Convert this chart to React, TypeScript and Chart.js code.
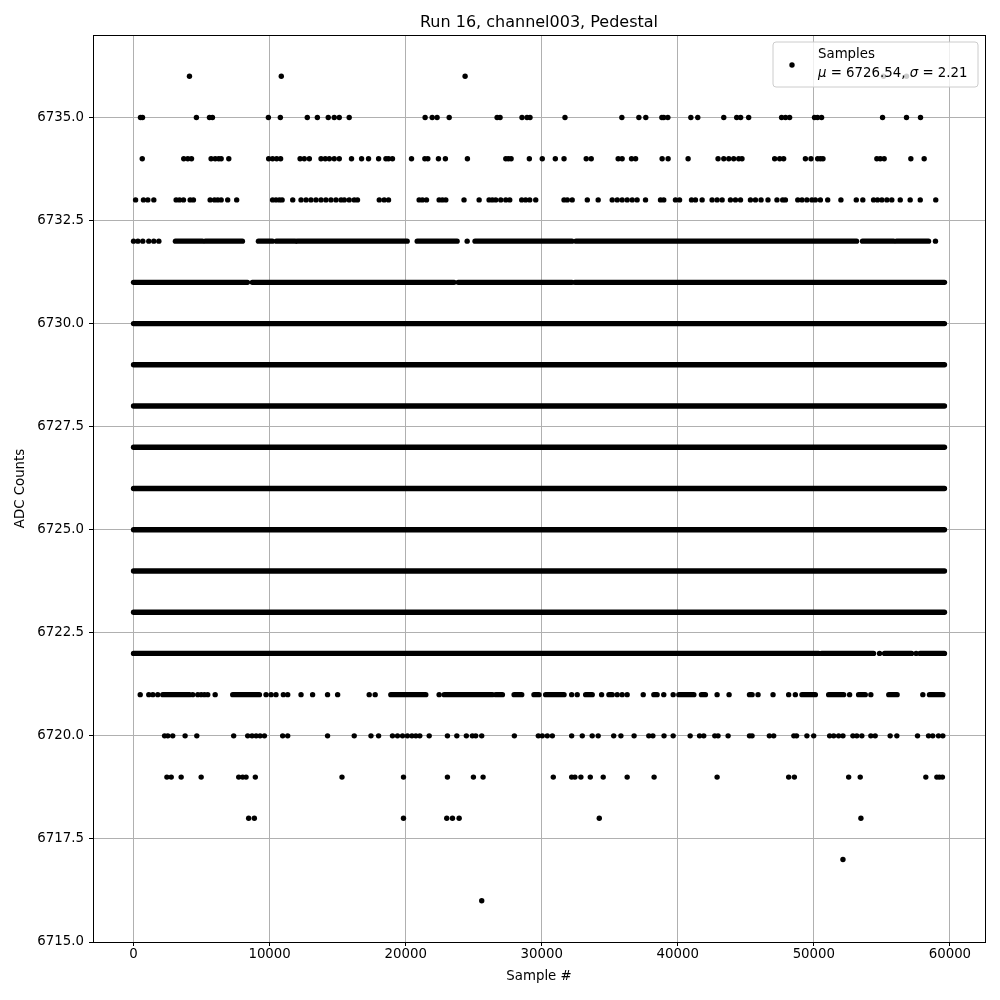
import { useEffect, useRef } from "react";
import { Chart, registerables } from "chart.js";

Chart.register(...registerables);

// ---- axes / ticks ----
const TITLE = "Run 16, channel003, Pedestal";
const X_LABEL = "Sample #";
const Y_LABEL = "ADC Counts";
const X_TICKS = [0, 10000, 20000, 30000, 40000, 50000, 60000];
const Y_TICKS = [6715, 6717.5, 6720, 6722.5, 6725, 6727.5, 6730, 6732.5, 6735];
const X_MIN = -2980;
const X_MAX = 62580;
const Y_MIN = 6715;
const Y_MAX = 6737;

// ---- legend ----
const LEGEND_NAME = "Samples";
const MU = "6726.54";
const SIGMA = "2.21";

// ---- data: ADC levels that are filled continuously over the whole run ----
const LAST_SAMPLE = 59600;
const DENSE_LEVELS = [6723, 6724, 6725, 6726, 6727, 6728, 6729, 6730];

// ---- data: nearly-continuous levels, as [start, end] sample runs ----
const SEGS_6731 = [[0, 8370], [8730, 23560], [23860, 32220], [32440, 59600]];
const SEGS_6732 = [[3080, 5060], [5280, 8000], [9180, 10200], [10500, 11890], [12040, 20110], [20850, 23780], [25100, 32220], [32520, 53140], [53580, 55860], [56080, 58430]];
const SEGS_6722 = [[0, 50350], [50570, 54390], [55200, 57180], [57810, 59600]];
const SEGS_6721 = [[2150, 4110], [7290, 9250], [18910, 21480], [22830, 26370], [26620, 27110], [27970, 28530], [29430, 29800], [30290, 31640], [33230, 33710], [34940, 35180], [38240, 38480], [40080, 41180], [41740, 42030], [45270, 45460], [49130, 50110], [51090, 52190], [53290, 53780], [55510, 56120], [58500, 59480]];

// ---- data: individual samples at sparse levels (sample #) ----
const PTS_6736 = [4110, 10860, 24370, 55120, 56810];
const PTS_6735 = [510, 660, 4620, 5580, 5800, 9910, 10790, 12770, 13510, 14310, 14750, 15120, 15850, 21430, 21950, 22310, 23200, 26720, 26940, 28550, 28920, 29140, 31710, 35890, 37140, 37650, 38830, 38970, 39270, 40960, 41470, 43380, 44330, 44620, 45210, 47630, 47920, 48220, 50050, 50270, 50570, 55050, 56810, 57840];
const PTS_6734 = [640, 3690, 3990, 4260, 5700, 6000, 6260, 6440, 7000, 9930, 10220, 10520, 10810, 12240, 12550, 12920, 13780, 14090, 14390, 14750, 15120, 16020, 16760, 17270, 18010, 18550, 18740, 19030, 20430, 21410, 21630, 22410, 22920, 24540, 27360, 27550, 27750, 29090, 30040, 31000, 31640, 33270, 33640, 35620, 35910, 36600, 36900, 38850, 39290, 40760, 42960, 43380, 43750, 44110, 44480, 44720, 47120, 47490, 47780, 49380, 49790, 50280, 50480, 50670, 54630, 54880, 55170, 57130, 58110];
const PTS_6733 = [150, 730, 1050, 1490, 3130, 3380, 3670, 4160, 4400, 5630, 5950, 6190, 6440, 6920, 7580, 10220, 10470, 10720, 10920, 11700, 12310, 12680, 13040, 13410, 13780, 14140, 14510, 14880, 15250, 15490, 15850, 16220, 16460, 18060, 18420, 18740, 20990, 21230, 21530, 22460, 22700, 22950, 24290, 25400, 26130, 26370, 26620, 26990, 27360, 27650, 28530, 28820, 29120, 29560, 31640, 31880, 32240, 33350, 34150, 35180, 35550, 35910, 36280, 36650, 37010, 37630, 38730, 38970, 39830, 40130, 41010, 41300, 41790, 42520, 42890, 43260, 43870, 44240, 44610, 45340, 45710, 46120, 46630, 47290, 47710, 47910, 48820, 49130, 49490, 49860, 50110, 50480, 51020, 51990, 53120, 53600, 54390, 54680, 55000, 55370, 55730, 56350, 57080, 57820, 58960];
const PTS_6732 = [0, 320, 680, 1120, 1490, 1860, 24520, 58940];
const PTS_6722 = [54830, 57520];
const PTS_6721 = [490, 1120, 1420, 1780, 4350, 4720, 4970, 5210, 5450, 6000, 9740, 10110, 10470, 11010, 11330, 12310, 13160, 14260, 15000, 17320, 17760, 22460, 32200, 32610, 34400, 35550, 35910, 36280, 37460, 38970, 39660, 42890, 43770, 45900, 47000, 48150, 48640, 52630, 54190, 58010];
const PTS_6720 = [2280, 2520, 2880, 3790, 4650, 7360, 8390, 8710, 9010, 9300, 9620, 10960, 11330, 14260, 16220, 17450, 18010, 19030, 19400, 19770, 20130, 20460, 20750, 21040, 21730, 23070, 23760, 24460, 24900, 25150, 25590, 27990, 29750, 30040, 30410, 30780, 32200, 32980, 33710, 34150, 35290, 35820, 36790, 37870, 38170, 38990, 39660, 40910, 41600, 41910, 42720, 42960, 43700, 45270, 45460, 46730, 47050, 48530, 48730, 49490, 49990, 51160, 51460, 51820, 52140, 52870, 53160, 53530, 54190, 54510, 55610, 56100, 57620, 58430, 58740, 59160, 59480];
const PTS_6719 = [2450, 2770, 3500, 4970, 7730, 8020, 8270, 8950, 15320, 19840, 23070, 24980, 25690, 30850, 32200, 32440, 32880, 33570, 34520, 36280, 38260, 42890, 48150, 48570, 52560, 53410, 58230, 59040, 59230, 59450];
const PTS_6718 = [8460, 8880, 19840, 23020, 23440, 23930, 34230, 53460];
const PTS_6717 = [52140];
const PTS_6716 = [25590];

const FONT = "'DejaVu Sans', 'Liberation Sans', sans-serif";
const DOT_R = 2.7;

function buildDatasets() {
  const datasets: any[] = [];
  const addSeg = (level: number, a: number, b: number) => {
    datasets.push({
      data: [{ x: a, y: level }, { x: b, y: level }],
      showLine: true,
      borderColor: "#000",
      borderWidth: DOT_R * 2,
      borderCapStyle: "round",
      pointRadius: 0,
      pointHoverRadius: 0,
    });
  };
  DENSE_LEVELS.forEach((lv) => addSeg(lv, 0, LAST_SAMPLE));
  const segSets: [number, number[][]][] = [
    [6731, SEGS_6731],
    [6732, SEGS_6732],
    [6722, SEGS_6722],
    [6721, SEGS_6721],
  ];
  segSets.forEach(([lv, segs]) => segs.forEach(([a, b]) => addSeg(lv, a, b)));

  const ptSets: [number, number[]][] = [
    [6736, PTS_6736], [6735, PTS_6735], [6734, PTS_6734], [6733, PTS_6733],
    [6732, PTS_6732], [6722, PTS_6722], [6721, PTS_6721], [6720, PTS_6720],
    [6719, PTS_6719], [6718, PTS_6718], [6717, PTS_6717], [6716, PTS_6716],
  ];
  const pts: { x: number; y: number }[] = [];
  ptSets.forEach(([lv, xs]) => xs.forEach((x) => pts.push({ x, y: lv })));
  datasets.push({
    data: pts,
    showLine: false,
    pointRadius: DOT_R,
    pointHoverRadius: DOT_R,
    pointBackgroundColor: "#000",
    pointBorderWidth: 0,
    borderColor: "#000",
  });
  return datasets;
}

const decorPlugin = {
  id: "decor",
  afterDraw(chart: any) {
    const ctx: CanvasRenderingContext2D = chart.ctx;
    const a = chart.chartArea;
    ctx.save();
    // spines
    ctx.strokeStyle = "#000";
    ctx.lineWidth = 1;
    ctx.strokeRect(Math.round(a.left) + 0.5, Math.round(a.top) + 0.5, Math.round(a.right - a.left), Math.round(a.bottom - a.top));
    // title
    ctx.fillStyle = "#000";
    ctx.font = `16px ${FONT}`;
    ctx.textAlign = "center";
    ctx.textBaseline = "alphabetic";
    ctx.fillText(TITLE, (a.left + a.right) / 2, a.top - 8);
    // x label
    ctx.font = `13.33px ${FONT}`;
    ctx.textBaseline = "middle";
    ctx.fillText(X_LABEL, (a.left + a.right) / 2, 977);
    // y label
    ctx.save();
    ctx.translate(21, (a.top + a.bottom) / 2);
    ctx.rotate(-Math.PI / 2);
    ctx.fillText(Y_LABEL, 0, 0);
    ctx.restore();

    // legend
    const lx = 773, ly = 42, lw = 205, lh = 45, r = 3;
    ctx.beginPath();
    ctx.moveTo(lx + r, ly);
    ctx.lineTo(lx + lw - r, ly);
    ctx.arcTo(lx + lw, ly, lx + lw, ly + r, r);
    ctx.lineTo(lx + lw, ly + lh - r);
    ctx.arcTo(lx + lw, ly + lh, lx + lw - r, ly + lh, r);
    ctx.lineTo(lx + r, ly + lh);
    ctx.arcTo(lx, ly + lh, lx, ly + lh - r, r);
    ctx.lineTo(lx, ly + r);
    ctx.arcTo(lx, ly, lx + r, ly, r);
    ctx.closePath();
    ctx.fillStyle = "rgba(255,255,255,0.8)";
    ctx.fill();
    ctx.strokeStyle = "#cccccc";
    ctx.lineWidth = 1;
    ctx.stroke();

    ctx.fillStyle = "#000";
    ctx.beginPath();
    ctx.arc(792, 65, DOT_R, 0, Math.PI * 2);
    ctx.fill();

    ctx.textAlign = "left";
    ctx.textBaseline = "alphabetic";
    ctx.font = `13.33px ${FONT}`;
    ctx.fillText(LEGEND_NAME, 818, 58);
    let x = 818;
    const y2 = 77;
    const parts: [string, boolean][] = [
      ["\u03bc", true],
      [" = " + MU + ", ", false],
      ["\u03c3", true],
      [" = " + SIGMA, false],
    ];
    parts.forEach(([t, it]) => {
      ctx.font = `${it ? "italic " : ""}13.33px ${FONT}`;
      ctx.fillText(t, x, y2);
      x += ctx.measureText(t).width;
    });
    ctx.restore();
  },
};

export default function App() {
  const ref = useRef<HTMLCanvasElement | null>(null);
  useEffect(() => {
    if (!ref.current) return;
    Chart.defaults.font.family = FONT;
    Chart.defaults.font.size = 13.33;
    Chart.defaults.color = "#000";
    const chart = new Chart(ref.current, {
      type: "scatter",
      data: { datasets: buildDatasets() },
      options: {
        animation: false,
        responsive: false,
        devicePixelRatio: 1,
        events: [],
        layout: { padding: { top: 35, right: 15, left: 0, bottom: 0 } },
        plugins: { legend: { display: false }, title: { display: false }, tooltip: { enabled: false } },
        scales: {
          x: {
            type: "linear",
            min: X_MIN,
            max: X_MAX,
            afterBuildTicks: (s: any) => { s.ticks = X_TICKS.map((v) => ({ value: v })); },
            afterFit: (s: any) => { s.height = 58; },
            ticks: { callback: (v: any) => String(v), padding: 1, maxRotation: 0, autoSkip: false, font: { size: 13.33 }, color: "#000" },
            grid: { color: "#b0b0b0", lineWidth: 1, tickColor: "#000", tickLength: 4, tickWidth: 1 },
            border: { display: false },
          },
          y: {
            type: "linear",
            min: Y_MIN,
            max: Y_MAX,
            afterBuildTicks: (s: any) => { s.ticks = Y_TICKS.map((v) => ({ value: v })); },
            afterFit: (s: any) => { s.width = 93; },
            ticks: { callback: (v: any) => Number(v).toFixed(1), padding: 5, autoSkip: false, font: { size: 13.33 }, color: "#000" },
            grid: { color: "#b0b0b0", lineWidth: 1, tickColor: "#000", tickLength: 4, tickWidth: 1 },
            border: { display: false },
          },
        },
      },
      plugins: [decorPlugin],
    } as any);
    return () => chart.destroy();
  }, []);
  return (
    <div style={{ position: "absolute", left: 0, top: 0, width: 1000, height: 1000, background: "#fff" }}>
      <canvas ref={ref} width={1000} height={1000} style={{ display: "block" }} />
    </div>
  );
}
